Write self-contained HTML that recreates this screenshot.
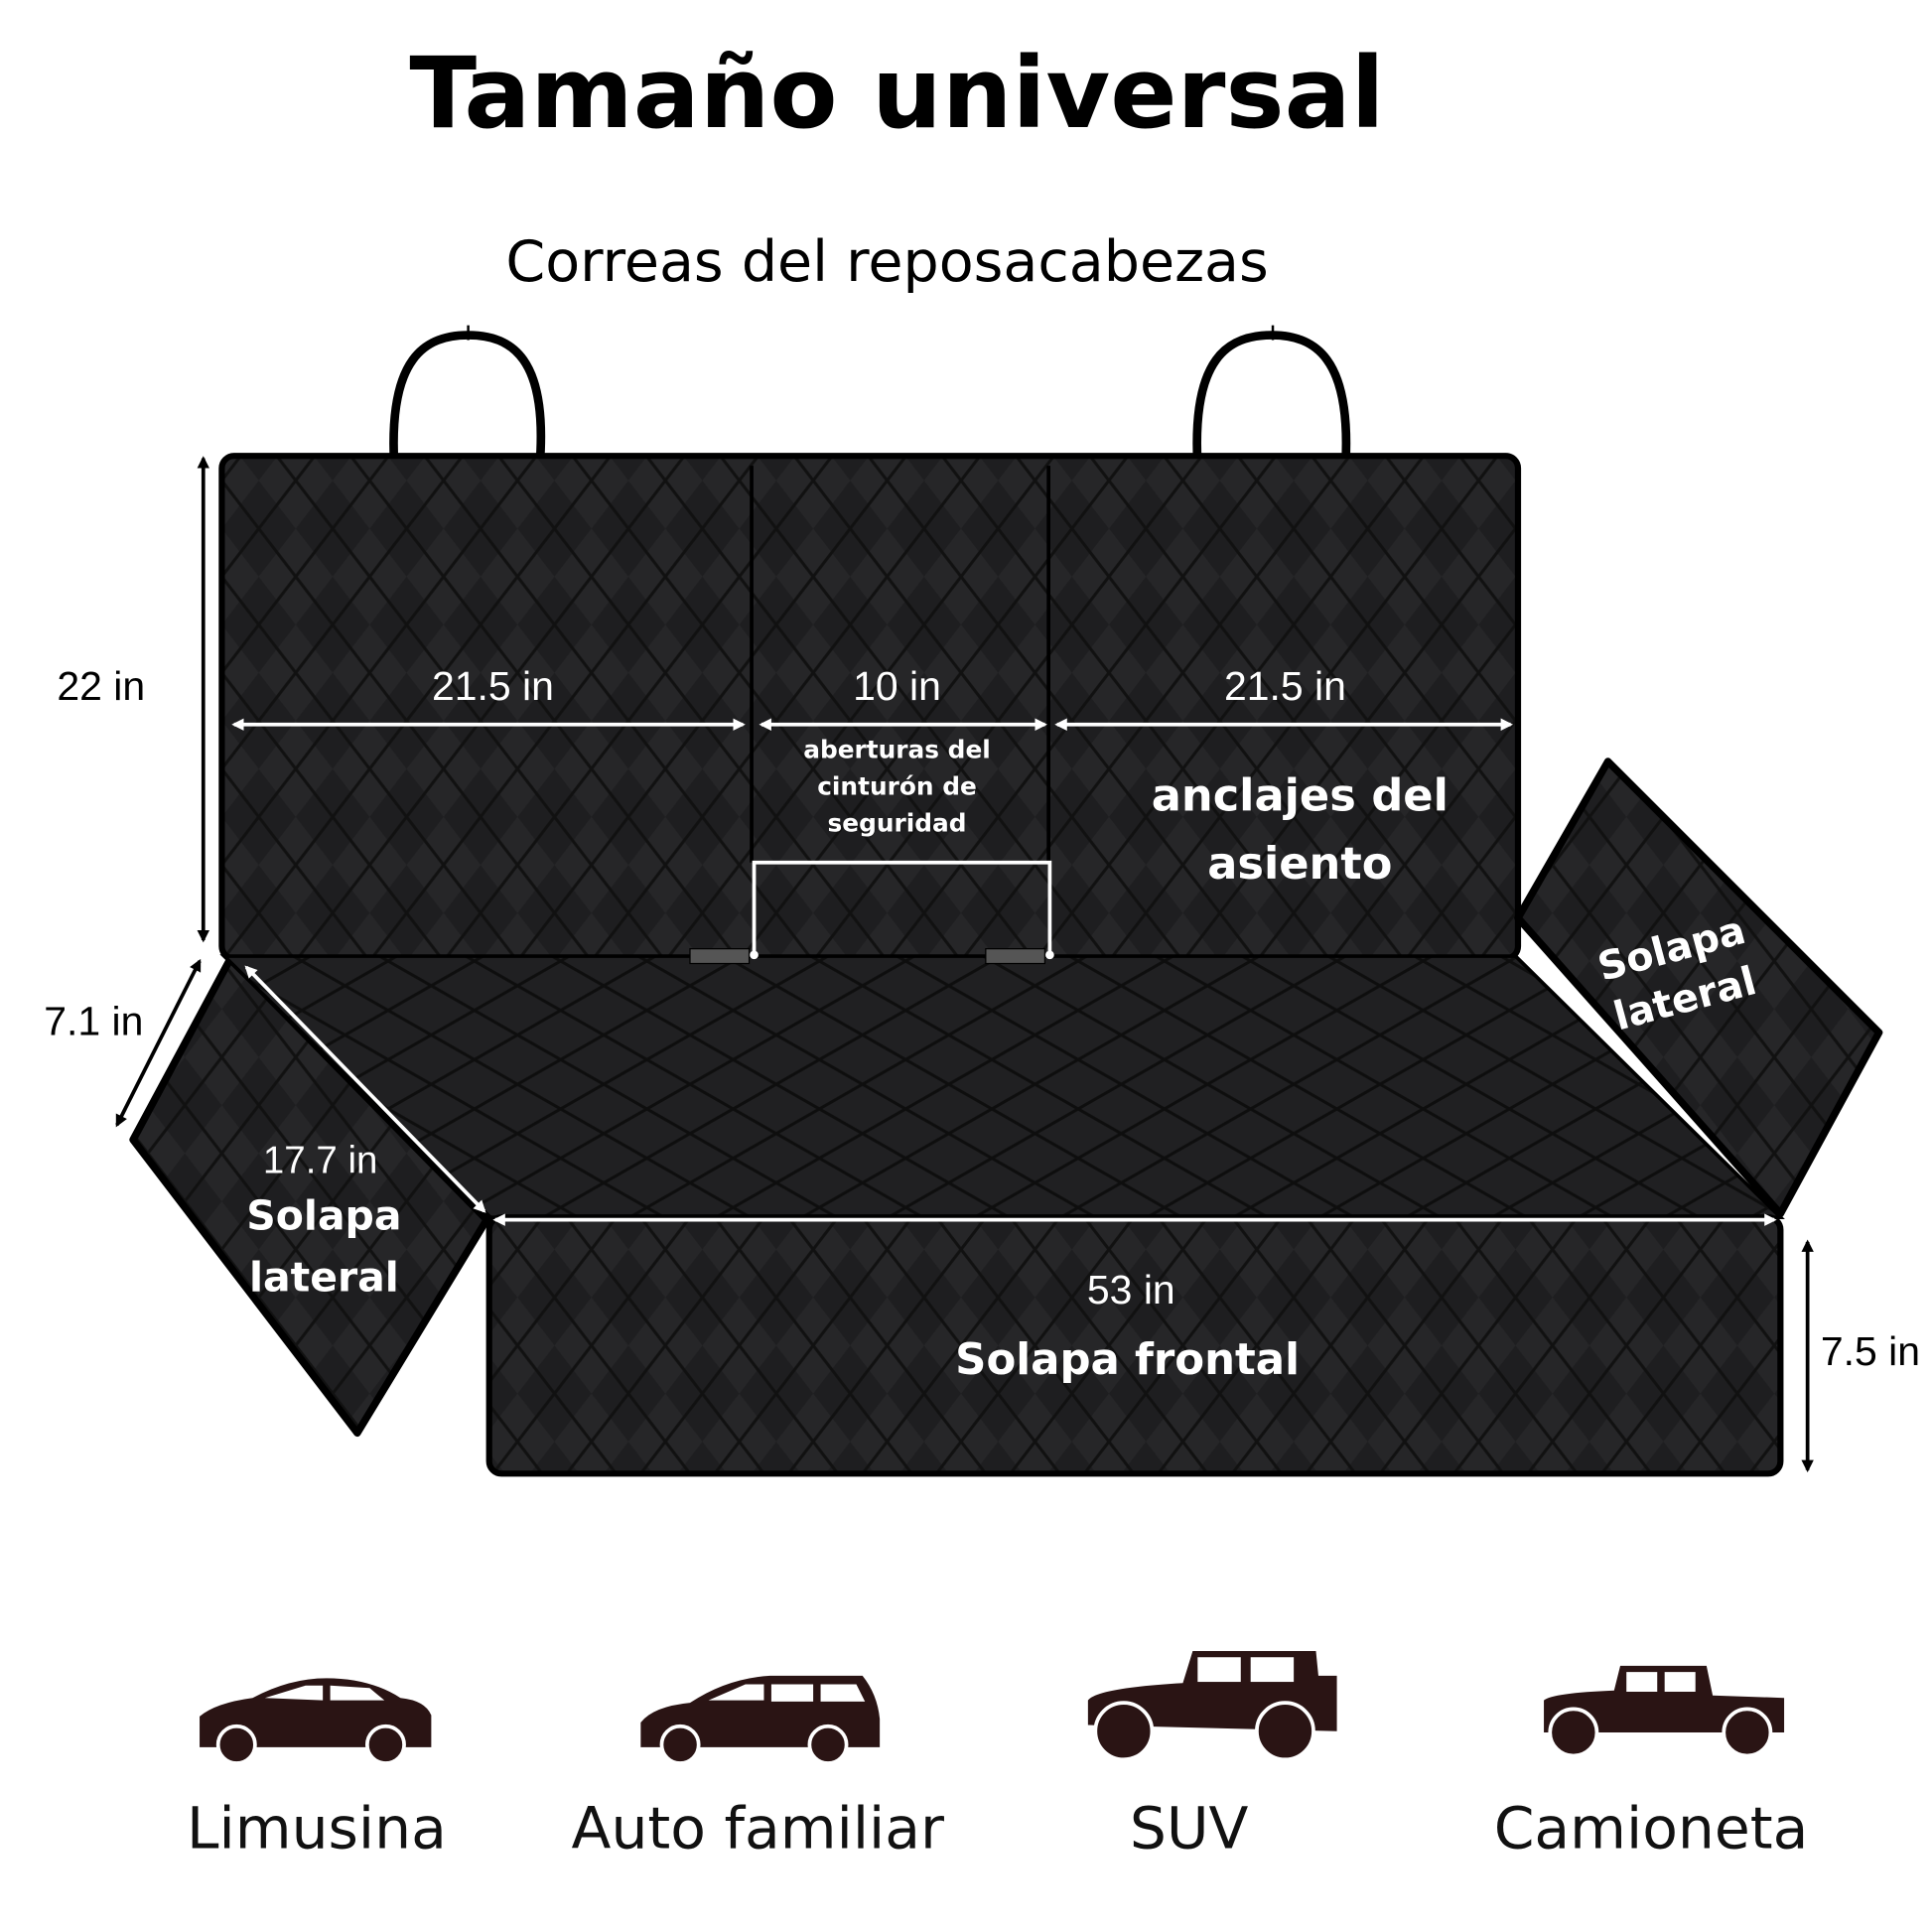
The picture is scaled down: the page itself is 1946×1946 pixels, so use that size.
<!DOCTYPE html>
<html><head><meta charset="utf-8"><style>
html,body{margin:0;padding:0;background:#fff;}
svg{display:block;}
text{font-family:"Liberation Sans",sans-serif;}
text.b{font-family:"DejaVu Sans","Liberation Sans",sans-serif;font-weight:bold;}
text.d{font-family:"DejaVu Sans","Liberation Sans",sans-serif;}
</style></head><body>
<svg width="1946" height="1946" viewBox="0 0 1568 1568" xmlns="http://www.w3.org/2000/svg">
<defs>
<pattern id="q" width="60" height="78" patternUnits="userSpaceOnUse">
<rect width="60" height="78" fill="#262628"/>
<path d="M0,39 L30,0 L60,39 L30,78 Z" fill="#1e1e20"/>
<path d="M0,0 L60,78 M60,0 L0,78" stroke="#111" stroke-width="2.5"/>
</pattern>
<pattern id="q2" width="70" height="40" patternUnits="userSpaceOnUse">
<rect width="70" height="40" fill="#202022"/>
<path d="M0,0 L70,40 M70,0 L0,40" stroke="#0e0e0e" stroke-width="2.5"/>
</pattern>
<marker id="aw" markerWidth="10" markerHeight="10" refX="8" refY="5" orient="auto-start-reverse" markerUnits="userSpaceOnUse"><path d="M0,0 L10,5 L0,10 Z" fill="#fff"/></marker>
<marker id="ab" markerWidth="10" markerHeight="10" refX="8" refY="5" orient="auto-start-reverse" markerUnits="userSpaceOnUse"><path d="M0,0 L10,5 L0,10 Z" fill="#000"/></marker>
</defs>
<rect width="1568" height="1568" fill="#fff"/>
<text x="728" y="103" text-anchor="middle" class="b" font-size="80">Tamaño universal</text>
<text x="720" y="228" text-anchor="middle" class="d" font-size="46">Correas del reposacabezas</text>
<!-- handles -->
<path d="M320,378 C315,290 345,272 380,272 C415,272 445,290 438,378" fill="none" stroke="#000" stroke-width="7"/>
<path d="M972,378 C967,290 997,272 1032,272 C1067,272 1097,290 1092,378" fill="none" stroke="#000" stroke-width="7"/>
<line x1="380" y1="264" x2="380" y2="276" stroke="#000" stroke-width="2"/>
<line x1="1033" y1="264" x2="1033" y2="276" stroke="#000" stroke-width="2"/>
<!-- back -->
<rect x="180" y="370" width="1052" height="408" rx="10" fill="url(#q)" stroke="#000" stroke-width="5"/>
<line x1="610" y1="378" x2="610" y2="700" stroke="#000" stroke-width="3"/>
<line x1="851" y1="378" x2="851" y2="700" stroke="#000" stroke-width="3"/>
<!-- flaps -->
<path d="M187,778 L395,990 L290,1163 L108,925 Z" fill="url(#q)" stroke="#000" stroke-width="6" stroke-linejoin="round"/>
<path d="M1305,618 L1525,838 L1445,985 L1232,745 Z" fill="url(#q)" stroke="#000" stroke-width="6" stroke-linejoin="round"/>
<path d="M182,776 L1230,776 L1445,988 L398,988 Z" fill="url(#q2)" stroke="#000" stroke-width="3"/>
<rect x="397" y="988" width="1048" height="208" rx="10" fill="url(#q)" stroke="#000" stroke-width="5"/>
<!-- buckles -->
<rect x="560" y="770" width="48" height="12" fill="#555" stroke="#000"/>
<rect x="800" y="770" width="48" height="12" fill="#555" stroke="#000"/>
<path d="M612,775 L612,700 L852,700 L852,775" fill="none" stroke="#fff" stroke-width="3"/>
<circle cx="612" cy="775" r="3.5" fill="#fff"/><circle cx="852" cy="775" r="3.5" fill="#fff"/>
<!-- white arrows -->
<g stroke="#fff" stroke-width="3" fill="none">
<line x1="190" y1="588" x2="603" y2="588" marker-start="url(#aw)" marker-end="url(#aw)"/>
<line x1="618" y1="588" x2="848" y2="588" marker-start="url(#aw)" marker-end="url(#aw)"/>
<line x1="858" y1="588" x2="1226" y2="588" marker-start="url(#aw)" marker-end="url(#aw)"/>
<line x1="402" y1="990" x2="1440" y2="990" marker-start="url(#aw)" marker-end="url(#aw)"/>
<line x1="200" y1="785" x2="393" y2="983" marker-start="url(#aw)" marker-end="url(#aw)"/>
</g>
<g stroke="#000" stroke-width="3" fill="none">
<line x1="165" y1="372" x2="165" y2="763" marker-start="url(#ab)" marker-end="url(#ab)"/>
<line x1="162" y1="780" x2="95" y2="913" marker-start="url(#ab)" marker-end="url(#ab)"/>
<line x1="1467" y1="1008" x2="1467" y2="1193" marker-start="url(#ab)" marker-end="url(#ab)"/>
</g>
<g fill="#fff">
<text x="400" y="568" text-anchor="middle" font-size="33">21.5 in</text>
<text x="728" y="568" text-anchor="middle" font-size="33">10 in</text>
<text x="1043" y="568" text-anchor="middle" font-size="33">21.5 in</text>
<text class="b" x="728" y="615" text-anchor="middle" font-size="20">aberturas del</text>
<text class="b" x="728" y="645" text-anchor="middle" font-size="20">cinturón de</text>
<text class="b" x="728" y="675" text-anchor="middle" font-size="20">seguridad</text>
<text class="b" x="1055" y="658" text-anchor="middle" font-size="36">anclajes del</text>
<text class="b" x="1055" y="713" text-anchor="middle" font-size="36">asiento</text>
<text x="260" y="952" text-anchor="middle" font-size="31">17.7 in</text>
<text class="b" x="263" y="998" text-anchor="middle" font-size="33">Solapa</text>
<text class="b" x="263" y="1048" text-anchor="middle" font-size="33">lateral</text>
<text x="918" y="1058" text-anchor="middle" font-size="33">53 in</text>
<text class="b" x="915" y="1115" text-anchor="middle" font-size="35">Solapa frontal</text>
<g transform="translate(1362,790) rotate(-15)"><text class="b" text-anchor="middle" font-size="32" x="0" y="-10">Solapa</text><text class="b" text-anchor="middle" font-size="32" x="0" y="32">lateral</text></g>
</g>
<text x="82" y="568" text-anchor="middle" font-size="33">22 in</text>
<text x="76" y="840" text-anchor="middle" font-size="33">7.1 in</text>
<text x="1518" y="1108" text-anchor="middle" font-size="33">7.5 in</text>
<!-- cars -->
<g fill="#2a1414">
<path d="M162,1418 L162,1393 Q175,1382 205,1378 Q235,1362 265,1362 Q300,1362 325,1378 Q345,1380 350,1392 L350,1418 Z"/>
<path d="M520,1418 L520,1398 Q530,1385 560,1382 Q590,1362 625,1360 L700,1360 Q712,1375 714,1395 L714,1418 Z"/>
<path d="M883,1400 L883,1380 Q890,1370 960,1366 L968,1340 L1068,1340 L1070,1360 L1085,1360 L1085,1405 Z"/>
<path d="M1253,1406 L1253,1380 Q1260,1374 1310,1372 L1315,1352 L1385,1352 L1390,1376 L1448,1378 L1448,1406 Z"/>
</g>
<g fill="#fff"><path d="M215,1378 L248,1368 L262,1368 L262,1380 Z"/><path d="M268,1368 L300,1370 L312,1380 L268,1380 Z"/>
<path d="M575,1380 L605,1367 L620,1367 L620,1380 Z"/><path d="M626,1367 L660,1367 L660,1381 L626,1381 Z"/><path d="M666,1367 L695,1367 L702,1381 L666,1381 Z"/>
<rect x="972" y="1345" width="35" height="20"/><rect x="1015" y="1345" width="35" height="20"/>
<rect x="1320" y="1357" width="25" height="16"/><rect x="1351" y="1357" width="25" height="16"/></g>
<g fill="#2a1414" stroke="#fff" stroke-width="3">
<circle cx="192" cy="1416" r="15"/><circle cx="313" cy="1416" r="15"/>
<circle cx="552" cy="1416" r="15"/><circle cx="672" cy="1416" r="15"/>
<circle cx="912" cy="1405" r="23"/><circle cx="1043" cy="1405" r="23"/>
<circle cx="1277" cy="1406" r="19"/><circle cx="1418" cy="1406" r="19"/>
</g>
<g font-size="47" text-anchor="middle" fill="#111">
<text class="d" x="257" y="1500">Limusina</text>
<text class="d" x="615" y="1500">Auto familiar</text>
<text class="d" x="965" y="1500">SUV</text>
<text class="d" x="1340" y="1500">Camioneta</text>
</g>
</svg>
</body></html>
